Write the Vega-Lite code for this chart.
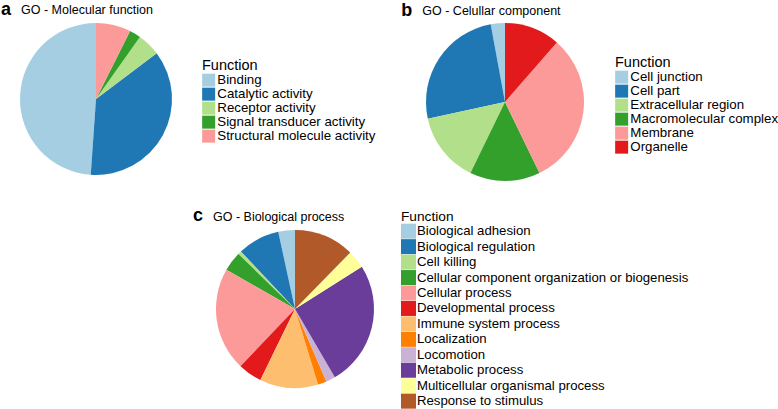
{
  "$schema": "https://vega.github.io/schema/vega-lite/v6.json",
  "padding": {"left": 1, "top": 1, "right": 0, "bottom": 0},
  "background": "white",
  "config": {
    "font": "Liberation Sans",
    "view": {"stroke": null},
    "title": {"anchor": "start", "fontSize": 18, "fontWeight": "bold", "color": "black", "offset": 4},
    "legend": {"orient": "none", "symbolType": "square", "symbolStrokeWidth": 0, "titleFontWeight": "normal", "titleColor": "black", "labelColor": "black", "padding": 0, "titlePadding": 0, "labelOffset": 2, "rowPadding": -1.8, "labelFontSize": 13.3, "titleFontSize": 14.5, "symbolSize": 169, "labelLimit": 400, "symbolOpacity": 1}
  },
  "resolve": {"scale": {"color": "independent"}, "legend": {"color": "independent"}},
  "spacing": 26,
  "vconcat": [
    {
      "spacing": 25,
      "resolve": {"scale": {"color": "independent"}, "legend": {"color": "independent"}},
      "hconcat": [
        {
          "title": {"text": "a", "dx": -19, "offset": -15},
          "hconcat": [
            {
              "title": {"text": "GO - Molecular function", "fontSize": 12.5, "fontWeight": "normal", "dx": 1, "offset": 6.5},
              "width": 152, "height": 152,
              "data": {"values": [
                {"Function": "Binding", "value": 48.9},
                {"Function": "Catalytic activity", "value": 36.4},
                {"Function": "Receptor activity", "value": 4.9},
                {"Function": "Signal transducer activity", "value": 2.4},
                {"Function": "Structural molecule activity", "value": 7.4}
              ]},
              "mark": {"type": "arc"},
              "encoding": {
                "theta": {"field": "value", "type": "quantitative", "stack": true},
                "order": {"field": "Function", "sort": "descending"},
                "color": {"field": "Function", "type": "nominal",
                  "scale": {"range": ["#a6cee3", "#1f78b4", "#b2df8a", "#33a02c", "#fb9a99"]},
                  "legend": {"legendX": 182, "legendY": 36}}
              }
            }
          ]
        },
        {
          "title": {"text": "b", "dx": -21, "offset": -15},
          "hconcat": [
            {
              "title": {"text": "GO - Celullar component", "fontSize": 12.5, "fontWeight": "normal", "dx": -3.7, "offset": 5.5},
              "width": 158, "height": 158,
              "data": {"values": [
                {"Function": "Cell junction", "value": 2.9},
                {"Function": "Cell part", "value": 25.5},
                {"Function": "Extracellular region", "value": 14.4},
                {"Function": "Macromolecular complex", "value": 14.4},
                {"Function": "Membrane", "value": 31.4},
                {"Function": "Organelle", "value": 11.4}
              ]},
              "mark": {"type": "arc"},
              "encoding": {
                "theta": {"field": "value", "type": "quantitative", "stack": true},
                "order": {"field": "Function", "sort": "descending"},
                "color": {"field": "Function", "type": "nominal",
                  "scale": {"range": ["#a6cee3", "#1f78b4", "#b2df8a", "#33a02c", "#fb9a99", "#e31a1c"]},
                  "legend": {"legendX": 189, "legendY": 33, "rowPadding": -2}}
              }
            }
          ]
        }
      ]
    },
    {
      "spacing": 0,
      "resolve": {"scale": {"color": "independent"}, "legend": {"color": "independent"}},
      "hconcat": [
        {"width": 173, "height": 5, "data": {"values": []}, "mark": "rect"},
        {
          "title": {"text": "c", "dx": -20, "offset": -15},
          "hconcat": [
            {
              "title": {"text": "GO - Biological process", "fontSize": 12.5, "fontWeight": "normal", "dx": -3, "offset": 6.8},
              "width": 158, "height": 158,
              "data": {"values": [
                {"Function": "Biological adhesion", "value": 3.4},
                {"Function": "Biological regulation", "value": 8.6},
                {"Function": "Cell killing", "value": 0.7},
                {"Function": "Cellular component organization or biogenesis", "value": 4.0},
                {"Function": "Cellular process", "value": 21.1},
                {"Function": "Developmental process", "value": 4.9},
                {"Function": "Immune system process", "value": 11.9},
                {"Function": "Localization", "value": 1.8},
                {"Function": "Locomotion", "value": 1.9},
                {"Function": "Metabolic process", "value": 25.5},
                {"Function": "Multicellular organismal process", "value": 3.7},
                {"Function": "Response to stimulus", "value": 12.3}
              ]},
              "mark": {"type": "arc"},
              "encoding": {
                "theta": {"field": "value", "type": "quantitative", "stack": true},
                "order": {"field": "Function", "sort": "descending"},
                "color": {"field": "Function", "type": "nominal",
                  "scale": {"range": ["#a6cee3", "#1f78b4", "#b2df8a", "#33a02c", "#fb9a99", "#e31a1c", "#fdbf6f", "#ff7f00", "#cab2d6", "#6a3d9a", "#ffff99", "#b15928"]},
                  "legend": {"legendX": 185, "legendY": -20, "symbolSize": 225, "rowPadding": 0.45, "titleFontSize": 13.7, "labelFontSize": 13.2, "labelOffset": 1}}
              }
            }
          ]
        }
      ]
    }
  ]
}
